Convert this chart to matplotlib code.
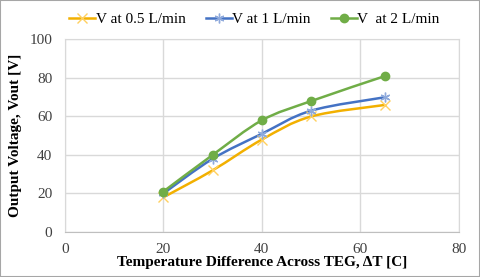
import matplotlib.pyplot as plt
import numpy as np
from matplotlib.path import Path
from matplotlib.patches import PathPatch
from matplotlib.lines import Line2D

plt.rcParams['font.family'] = ['Liberation Serif', 'DejaVu Serif']

delta_t = [20, 30, 40, 50, 65]
v_05 = [18, 32, 48, 60, 66]
v_1 = [20, 38, 51, 63, 70]
v_2 = [21, 40, 58, 68, 81]

labels = ['V at 0.5 L/min', 'V at 1 L/min', 'V  at 2 L/min']
line_colors = ['#F2B000', '#4472C4', '#70AD47']
marker_colors = ['#FFD060', '#8FAADC', '#70AD47']
markers = ['x', (6, 2, 0), 'o']


def smooth_path(x, y, t=1 / 6):
    # excel-like smoothed line: cubic bezier with catmull-rom tangents
    x = np.asarray(x, float)
    y = np.asarray(y, float)
    verts = [(x[0], y[0])]
    codes = [Path.MOVETO]
    n = len(x)
    for i in range(n - 1):
        p0 = (x[max(i - 1, 0)], y[max(i - 1, 0)])
        p1 = (x[i], y[i])
        p2 = (x[i + 1], y[i + 1])
        p3 = (x[min(i + 2, n - 1)], y[min(i + 2, n - 1)])
        c1 = (p1[0] + (p2[0] - p0[0]) * t, p1[1] + (p2[1] - p0[1]) * t)
        c2 = (p2[0] - (p3[0] - p1[0]) * t, p2[1] - (p3[1] - p1[1]) * t)
        verts += [c1, c2, p2]
        codes += [Path.CURVE4] * 3
    return Path(verts, codes)


fig = plt.figure(figsize=(4.8, 2.77), dpi=100)
ax = fig.add_axes([0.135, 0.1625, 0.821, 0.695])

for ys, lc, mc, mk in zip([v_05, v_1, v_2], line_colors, marker_colors, markers):
    ax.add_patch(PathPatch(smooth_path(delta_t, ys), fill=False,
                           edgecolor=lc, lw=1.8, zorder=3))
    if mk == 'o':
        ax.plot(delta_t, ys, ls='none', marker=mk, ms=6, color=mc, zorder=4)
    else:
        ax.plot(delta_t, ys, ls='none', marker=mk, ms=7, mew=1.0,
                color=mc, zorder=4)

ax.set_xlim(0, 80)
ax.set_ylim(0, 100)
ax.set_xticks([0, 20, 40, 60, 80])
ax.set_yticks([0, 20, 40, 60, 80, 100])
ax.grid(True, color='#D9D9D9', lw=1)
ax.set_axisbelow(True)
for s in ax.spines.values():
    s.set_color('#D9D9D9')
ax.spines['bottom'].set_color('#BFBFBF')
ax.tick_params(length=0, labelsize=11, pad=9, colors='#404040')
ax.tick_params(axis='x', pad=8)
ax.set_xlabel('Temperature Difference Across TEG, ΔT [C]',
              fontsize=11, fontweight='bold', labelpad=0)
ax.set_ylabel('Output Voltage, Vout [V]', fontsize=11,
              fontweight='bold', labelpad=5)

handles = [Line2D([], [], color=lc, lw=1.8, marker=mk, ms=7 if mk != 'o' else 6,
                  mfc=mc, mec=mc)
           for lc, mc, mk in zip(line_colors, marker_colors, markers)]
fig.legend(handles, labels, loc='center', bbox_to_anchor=(0.53, 0.93),
           ncol=3, frameon=False, fontsize=11, handlelength=1.7,
           handletextpad=0.05, columnspacing=1.3)

fig.patches.append(plt.Rectangle((0, 0), 1, 1, transform=fig.transFigure,
                                 fill=False, edgecolor='#A6A6A6', lw=1.5))

fig.savefig('out.png', dpi=100)
